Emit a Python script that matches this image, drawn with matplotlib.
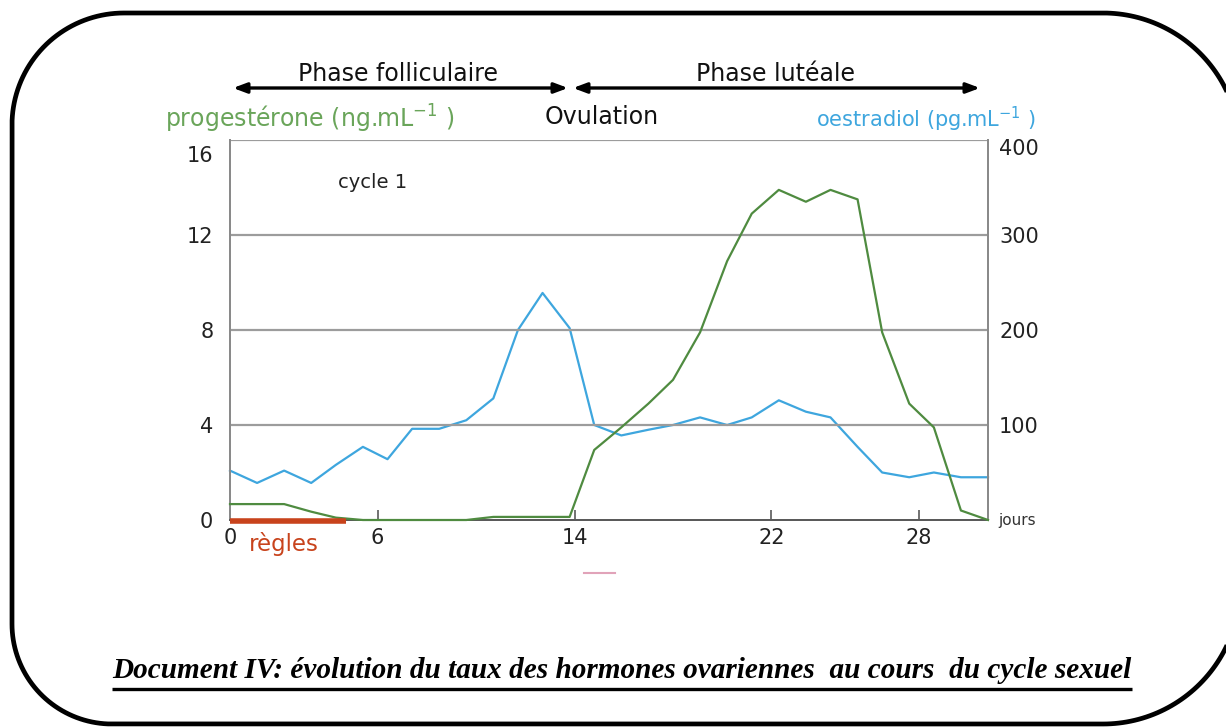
import numpy as np
import matplotlib
matplotlib.use("Agg")
import matplotlib.pyplot as plt
from matplotlib.transforms import ScaledTranslation

# jours et taux hormonaux
jours = [0, 1.1, 2.2, 3.3, 4.3, 5.4, 6.4, 7.4, 8.5, 9.6, 10.7, 11.7, 12.7, 13.8,
         14.8, 15.9, 17.0, 18.0, 19.1, 20.2, 21.2, 22.3, 23.4, 24.4, 25.5, 26.5,
         27.6, 28.6, 29.7, 30.8]
progesterone = [0.67, 0.67, 0.67, 0.35, 0.1, 0, 0, 0, 0, 0, 0.13, 0.13, 0.13, 0.13,
                2.95, 3.9, 4.9, 5.9, 7.9, 10.9, 12.9, 13.9, 13.4, 13.9, 13.5, 7.9,
                4.9, 3.9, 0.4, 0]
oestradiol = [52, 39, 52, 39, 58, 77, 64, 96, 96, 105, 128, 200, 239, 202,
              100, 89, 95, 100, 108, 100, 108, 126, 114, 108, 77, 50, 45, 50, 45, 45]

regles = (0, 4.7)
x_ticks = [0, 6, 14, 22, 28]
y_left_ticks = [0, 4, 8, 12, 16]
y_right_ticks = [100, 200, 300, 400]

VERT = "#4f8b40"
VERT_TXT = "#6aa55a"
BLEU = "#3ea6de"
ROUGE = "#c8431c"

W, H = 1226, 727
fig = plt.figure(figsize=(W / 100, H / 100), dpi=100)

# fond : cadre, titres, fleches (coordonnees en pixels)
bg = fig.add_axes([0, 0, 1, 1])
bg.set_xlim(0, W)
bg.set_ylim(H, 0)
bg.axis("off")


def coin(cx, cy, r, a0, a1):
    t = np.radians(np.linspace(a0, a1, 40))
    return list(zip(cx + r * np.cos(t), cy + r * np.sin(t)))


# cadre arrondi (y vers le bas) ; le bord droit sort de l'image,
# on ne trace que la partie visible
g, d, h, b = 12, 1240, 13, 724
pts = []
pts += coin(d - 137, b - 137, 137, 25, 90)
pts += coin(g + 100, b - 100, 100, 90, 180)
pts += coin(g + 112, h + 112, 112, 180, 270)
pts += coin(d - 137, h + 137, 137, 270, 335)
cx, cy = zip(*pts)
bg.plot(cx, cy, color="black", lw=3.4, solid_capstyle="butt", clip_on=False)

# courbes
ax = fig.add_axes([230 / W, 1 - 520 / H, 758 / W, 380 / H])
ax2 = ax.twinx()

ax.set_xlim(0, 30.8)
ax.set_ylim(0, 16)
ax2.set_ylim(0, 400)

for y in [4, 8, 12, 16]:
    ax.axhline(y, color="#9c9c9c", lw=1.6, zorder=1)

ax.plot(jours, progesterone, color=VERT, lw=1.6, zorder=3, clip_on=False)
ax2.plot(jours, oestradiol, color=BLEU, lw=1.6, zorder=3, clip_on=False)
ax.plot(regles, [-0.06, -0.06], color=ROUGE, lw=4, solid_capstyle="butt",
        clip_on=False, zorder=4)

for a in (ax, ax2):
    a.spines["top"].set_visible(False)
    a.spines["left"].set_color("#8a8a8a")
    a.spines["right"].set_color("#8a8a8a")
    a.spines["bottom"].set_color("#5a5a5a")
    for s in a.spines.values():
        s.set_linewidth(1.4)
ax.set_zorder(2)
ax.patch.set_visible(False)
ax2.set_zorder(1)

ax.set_xticks(x_ticks)
ax.set_xticklabels([str(t) for t in x_ticks])
ax.tick_params(axis="x", direction="in", length=7, width=1.2, color="#5a5a5a",
               labelsize=15, pad=6, labelcolor="#222222")
ax.set_yticks(y_left_ticks)
ax.tick_params(axis="y", length=0, labelsize=15, pad=12, labelcolor="#222222")
ax2.set_yticks(y_right_ticks)
ax2.tick_params(axis="y", length=0, labelsize=15, pad=8, labelcolor="#222222")

# les etiquettes du haut sont un peu plus basses sur l'original
decal = ScaledTranslation(0, -10 / 72, fig.dpi_scale_trans)
ax.get_yticklabels()[-1].set_transform(ax.get_yticklabels()[-1].get_transform() + decal)
decal2 = ScaledTranslation(0, -5 / 72, fig.dpi_scale_trans)
ax2.get_yticklabels()[-1].set_transform(ax2.get_yticklabels()[-1].get_transform() + decal2)

ax.text(0.75, -0.5, "règles", color=ROUGE, fontsize=16.5, va="top", ha="left")
ax.text(31.2, 0, "jours", color="#333333", fontsize=11, va="center", ha="left",
        clip_on=False)
ax.text(4.4, 14.2, "cycle 1", color="#222222", fontsize=14, va="center")

# en-tete
style = "<|-|>,head_length=0.8,head_width=0.3"
bg.annotate("", xy=(233, 88), xytext=(568, 88),
            arrowprops=dict(arrowstyle=style, color="black", lw=2.4,
                            shrinkA=0, shrinkB=0))
bg.annotate("", xy=(573, 88), xytext=(980, 88),
            arrowprops=dict(arrowstyle=style, color="black", lw=2.4,
                            shrinkA=0, shrinkB=0))
bg.text(398, 74, "Phase folliculaire", fontsize=17, ha="center", va="center",
        color="#111111")
bg.text(775, 74, "Phase lutéale", fontsize=17, ha="center", va="center",
        color="#111111")
bg.text(165, 119, r"progestérone (ng.mL$^{-1}$ )", fontsize=17, ha="left",
        va="center", color=VERT_TXT)
bg.text(545, 117, "Ovulation", fontsize=17, ha="left", va="center",
        color="#111111")
bg.text(1036, 119, r"oestradiol (pg.mL$^{-1}$ )", fontsize=15, ha="right",
        va="center", color=BLEU, zorder=5)

# petite trace rose sous l'axe
bg.plot([584, 615], [573, 573], color="#d57c9c", lw=1.5, alpha=0.7)

# legende du document
cap = bg.text(622, 678, "Document IV: évolution du taux des hormones ovariennes  au cours  du cycle sexuel",
              family="Liberation Serif", fontsize=21.1, weight="bold", style="italic",
              ha="center", va="baseline", color="black")
fig.canvas.draw()
bb = cap.get_window_extent()
bg.plot([bb.x0, bb.x1], [689, 689], color="black", lw=2.4, solid_capstyle="butt")

fig.savefig("out.png", dpi=100)
